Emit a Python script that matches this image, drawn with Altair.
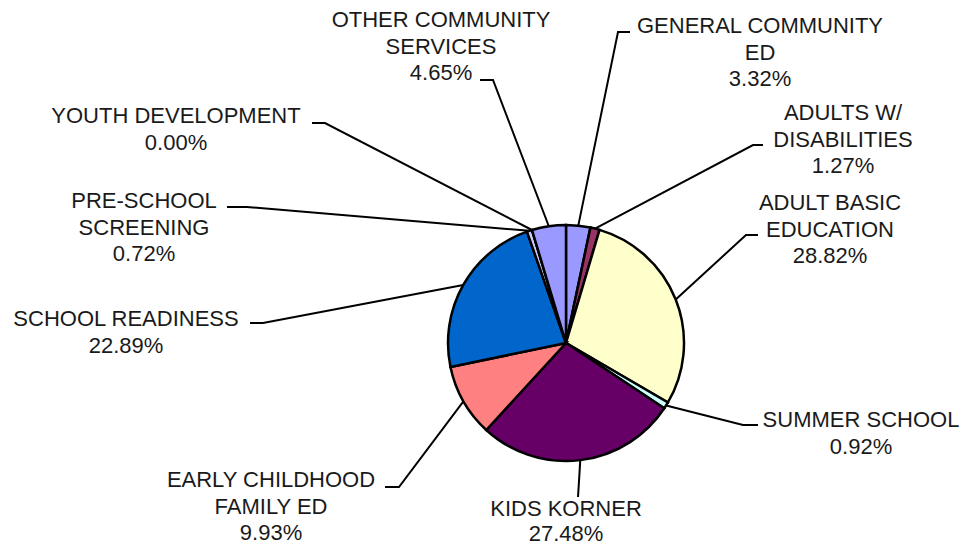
import math
import altair as alt
import pandas as pd

# ---------------- data ----------------
CATEGORIES = [
    "GENERAL COMMUNITY ED",
    "ADULTS W/ DISABILITIES",
    "ADULT BASIC EDUCATION",
    "SUMMER SCHOOL",
    "KIDS KORNER",
    "EARLY CHILDHOOD FAMILY ED",
    "SCHOOL READINESS",
    "PRE-SCHOOL SCREENING",
    "YOUTH DEVELOPMENT",
    "OTHER COMMUNITY SERVICES",
]
VALUES = [3.32, 1.27, 28.82, 0.92, 27.48, 9.93, 22.89, 0.72, 0.00, 4.65]
LABEL_LINES = [
    ["GENERAL COMMUNITY", "ED"],
    ["ADULTS W/", "DISABILITIES"],
    ["ADULT BASIC", "EDUCATION"],
    ["SUMMER SCHOOL"],
    ["KIDS KORNER"],
    ["EARLY CHILDHOOD", "FAMILY ED"],
    ["SCHOOL READINESS"],
    ["PRE-SCHOOL", "SCREENING"],
    ["YOUTH DEVELOPMENT"],
    ["OTHER COMMUNITY", "SERVICES"],
]
COLORS = ["#9999FF", "#993366", "#FFFFCC", "#CCFFFF", "#660066",
          "#FF8080", "#0066CC", "#CCCCFF", "#000080", "#9999FF"]

# ---------------- layout (page pixels) ----------------
W, H = 951, 538
OFF = 8
CX, CY, R = 566 - OFF, 343 - OFF, 118
FONT_SIZE = 22
LINE_STEP = 26.5
LABEL_ANCHOR = [(760, 33), (843, 120), (830, 210), (861, 427), (566, 516),
                (271, 487), (126, 326), (144, 208), (176, 123), (441, 27)]
LABEL_STEP = [LINE_STEP] * 4 + [25] + [LINE_STEP] * 5
LEADER = [
    [(618, 32), (630, 32)],
    [(753, 145), (763, 145)],
    [(746, 235), (758, 235)],
    [(743, 425), (758, 425)],
    [(578, 497)],
    [(399, 487), (385, 487)],
    [(263, 323), (250, 323)],
    [(247, 207), (227, 207)],
    [(325, 123), (312, 123)],
    [(493, 80), (480, 80)],
]

# ---------------- tables ----------------
pie_df = pd.DataFrame({
    "category": CATEGORIES,
    "value": VALUES,
    "idx": list(range(len(CATEGORIES))),
})

line_rows = []
text_rows = []
cum = 0.0
total = sum(VALUES)
for i, (cat, v) in enumerate(zip(CATEGORIES, VALUES)):
    mid = (cum + v / 2) / total * 2 * math.pi
    cum += v
    ex = CX + R * math.sin(mid)
    ey = CY - R * math.cos(mid)
    pts = [(ex, ey)] + [(px - OFF, py - OFF) for px, py in LEADER[i]]
    for j, (px, py) in enumerate(pts):
        line_rows.append({"label": cat, "o": j, "x": px, "y": py})
    lines = LABEL_LINES[i] + [f"{v:.2f}%"]
    ax, ay = LABEL_ANCHOR[i]
    for k, t in enumerate(lines):
        text_rows.append({"label": cat, "t": t, "x": ax - OFF,
                          "y": ay - OFF + k * LABEL_STEP[i]})

line_df = pd.DataFrame(line_rows)
text_df = pd.DataFrame(text_rows)

xs = alt.Scale(domain=[0, W], nice=False, zero=False)
ys = alt.Scale(domain=[0, H], nice=False, zero=False, reverse=True)

leaders = alt.Chart(line_df).mark_line(color="black", strokeWidth=2).encode(
    x=alt.X("x:Q", scale=xs, axis=None),
    y=alt.Y("y:Q", scale=ys, axis=None),
    detail="label:N",
    order="o:Q",
)

pie = alt.Chart(pie_df).mark_arc(
    outerRadius=R, stroke="black", strokeWidth=2.5
).encode(
    theta=alt.Theta("value:Q", stack=True),
    color=alt.Color("category:N",
                    scale=alt.Scale(domain=CATEGORIES, range=COLORS),
                    legend=None),
    order=alt.Order("idx:Q"),
    x=alt.value(CX),
    y=alt.value(CY),
)

labels = alt.Chart(text_df).mark_text(
    font="Liberation Sans", fontSize=FONT_SIZE, color="#1a1a1a",
    align="center", baseline="alphabetic"
).encode(
    x=alt.X("x:Q", scale=xs, axis=None),
    y=alt.Y("y:Q", scale=ys, axis=None),
    text="t:N",
)

chart = alt.layer(leaders, pie, labels).properties(
    width=W, height=H, autosize="none", padding=0
).configure_view(stroke=None)

chart.save("out.html", embed_options={"renderer": "svg", "actions": False})
